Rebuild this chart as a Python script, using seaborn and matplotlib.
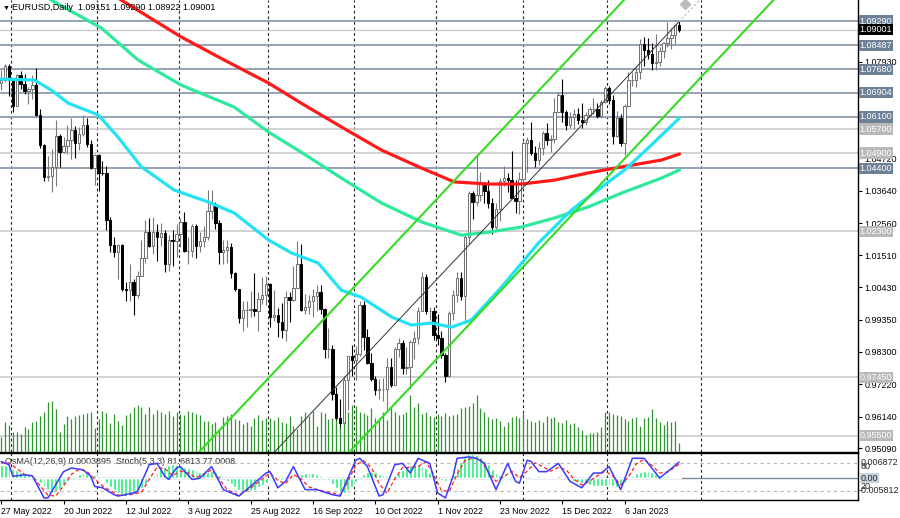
import matplotlib
matplotlib.use("Agg")
import matplotlib.pyplot as plt
import matplotlib.transforms as mtransforms
import numpy as np
import pandas as pd
import seaborn as sns

# ---------------- data ----------------
first_date = "2022-05-27"
first_open = 1.0723
last_open = 1.09151

closes = [
    1.0734, 1.0778, 1.0733, 1.0647, 1.0749, 1.0719, 1.0698, 1.0703, 1.0717, 1.0617,
    1.0518, 1.0409, 1.0415, 1.0445, 1.0546, 1.0495, 1.0514, 1.0535, 1.0567, 1.0522,
    1.0554, 1.0583, 1.0519, 1.0442, 1.0484, 1.0425, 1.0423, 1.0266, 1.0183, 1.0160,
    1.0184, 1.0038, 1.0036, 1.0062, 1.0018, 1.0082, 1.0142, 1.0226, 1.0180, 1.0229,
    1.0210, 1.0224, 1.0120, 1.0201, 1.0197, 1.0221, 1.0260, 1.0163, 1.0166, 1.0246,
    1.0180, 1.0196, 1.0210, 1.0297, 1.0320, 1.0259, 1.0160, 1.0169, 1.0177, 1.0090,
    1.0037, 0.9943, 0.9967, 0.9969, 0.9972, 0.9965, 1.0004, 1.0017, 1.0054, 0.9945,
    0.9953, 0.9927, 0.9902, 1.0012, 1.0001, 1.0040, 1.0120, 0.9969, 0.9979, 0.9998,
    1.0014, 1.0027, 0.9970, 0.9837, 0.9838, 0.9690, 0.9608, 0.9594, 0.9737, 0.9814,
    0.9801, 0.9823, 0.9985, 0.9880, 0.9793, 0.9740, 0.9703, 0.9705, 0.9706, 0.9779,
    0.9719, 0.9837, 0.9857, 0.9775, 0.9778, 0.9861, 0.9876, 0.9966, 1.0078, 0.9965,
    0.9965, 0.9884, 0.9875, 0.9819, 0.9749, 0.9959, 1.0018, 1.0074, 1.0014, 1.0212,
    1.0357, 1.0326, 1.0350, 1.0390, 1.0364, 1.0324, 1.0243, 1.0304, 1.0396, 1.0408,
    1.0399, 1.0341, 1.0331, 1.0405, 1.0523, 1.0535, 1.0490, 1.0466, 1.0508, 1.0556,
    1.0534, 1.0537, 1.0628, 1.0682, 1.0627, 1.0585, 1.0609, 1.0621, 1.0601, 1.0593,
    1.0616, 1.0635, 1.0637, 1.0612, 1.0660, 1.0705, 1.0667, 1.0548, 1.0605, 1.0522,
    1.0645, 1.0732, 1.0733, 1.0761, 1.0852, 1.0832, 1.0821, 1.0790, 1.0793, 1.0831,
    1.0855, 1.0871, 1.0884, 1.0915, 1.09001,
]
highs = [
    1.0765, 1.0787, 1.0786, 1.0737, 1.0754, 1.0764, 1.0752, 1.0710, 1.0748, 1.0774,
    1.0637, 1.0520, 1.0479, 1.0505, 1.0601, 1.0555, 1.0543, 1.0583, 1.0606, 1.0581,
    1.0577, 1.0615, 1.0605, 1.0534, 1.0488, 1.0486, 1.0463, 1.0448, 1.0277, 1.0210,
    1.0186, 1.0186, 1.0061, 1.0121, 1.0071, 1.0099, 1.0200, 1.0269, 1.0274, 1.0278,
    1.0255, 1.0258, 1.0235, 1.0219, 1.0234, 1.0254, 1.0274, 1.0294, 1.0211, 1.0254,
    1.0253, 1.0226, 1.0248, 1.0368, 1.0366, 1.0328, 1.0268, 1.0202, 1.0202, 1.0191,
    1.0096, 1.0039, 0.9999, 0.9999, 1.0030, 1.0090, 1.0028, 1.0079, 1.0080, 1.0057,
    1.0034, 0.9975, 0.9990, 1.0030, 1.0029, 1.0113, 1.0198, 1.0187, 1.0020, 1.0017,
    1.0037, 1.0050, 1.0052, 0.9976, 0.9907, 0.9852, 0.9713, 0.9671, 0.9750, 0.9815,
    0.9853, 0.9848, 0.9999, 0.9998, 0.9904, 0.9826, 0.9749, 0.9740, 0.9742, 0.9808,
    0.9809, 0.9845, 0.9875, 0.9868, 0.9846, 0.9870, 0.9899, 0.9977, 1.0094, 1.0089,
    0.9978, 0.9977, 0.9954, 0.9900, 0.9825, 0.9965, 1.0034, 1.0096, 1.0093, 1.0224,
    1.0364, 1.0364, 1.0480, 1.0426, 1.0393, 1.0402, 1.0339, 1.0325, 1.0406, 1.0448,
    1.0423, 1.0497, 1.0400, 1.0427, 1.0534, 1.0545, 1.0594, 1.0514, 1.0528, 1.0564,
    1.0589, 1.0550, 1.0673, 1.0694, 1.0737, 1.0634, 1.0625, 1.0638, 1.0640, 1.0658,
    1.0625, 1.0642, 1.0674, 1.0658, 1.0665, 1.0713, 1.0712, 1.0683, 1.0630, 1.0620,
    1.0652, 1.0760, 1.0760, 1.0776, 1.0868, 1.0875, 1.0874, 1.0855, 1.0887, 1.0843,
    1.0860, 1.0927, 1.0905, 1.0918, 1.0929,
]
lows = [
    1.0700, 1.0725, 1.0680, 1.0627, 1.0646, 1.0703, 1.0687, 1.0653, 1.0671, 1.0613,
    1.0506, 1.0397, 1.0398, 1.0359, 1.0381, 1.0443, 1.0491, 1.0487, 1.0470, 1.0475,
    1.0500, 1.0548, 1.0510, 1.0437, 1.0383, 1.0365, 1.0417, 1.0235, 1.0162, 1.0145,
    1.0072, 1.0032, 0.9999, 0.9998, 0.9952, 1.0007, 1.0081, 1.0125, 1.0177, 1.0153,
    1.0130, 1.0180, 1.0096, 1.0097, 1.0113, 1.0144, 1.0179, 1.0160, 1.0122, 1.0146,
    1.0141, 1.0160, 1.0178, 1.0202, 1.0272, 1.0236, 1.0122, 1.0121, 1.0123, 1.0073,
    1.0033, 0.9926, 0.9900, 0.9910, 0.9944, 0.9948, 0.9899, 0.9988, 0.9985, 0.9910,
    0.9930, 0.9877, 0.9876, 0.9864, 0.9929, 0.9999, 1.0040, 0.9966, 0.9954, 0.9956,
    0.9946, 0.9966, 0.9954, 0.9810, 0.9807, 0.9668, 0.9553, 0.9570, 0.9535, 0.9635,
    0.9748, 0.9736, 0.9815, 0.9835, 0.9787, 0.9731, 0.9684, 0.9671, 0.9667, 0.9632,
    0.9712, 0.9718, 0.9812, 0.9756, 0.9756, 0.9705, 0.9805, 0.9855, 0.9964, 0.9954,
    0.9936, 0.9870, 0.9852, 0.9808, 0.9730, 0.9747, 0.9936, 0.9994, 1.0003, 0.9936,
    1.0187, 1.0270, 1.0314, 1.0331, 1.0325, 1.0309, 1.0222, 1.0234, 1.0265, 1.0380,
    1.0360, 1.0340, 1.0290, 1.0288, 1.0394, 1.0428, 1.0482, 1.0443, 1.0451, 1.0484,
    1.0518, 1.0492, 1.0524, 1.0625, 1.0593, 1.0567, 1.0575, 1.0570, 1.0586, 1.0573,
    1.0585, 1.0612, 1.0620, 1.0608, 1.0605, 1.0655, 1.0653, 1.0519, 1.0542, 1.0512,
    1.0483, 1.0643, 1.0713, 1.0709, 1.0736, 1.0780, 1.0804, 1.0766, 1.0767, 1.0779,
    1.0805, 1.0844, 1.0835, 1.0854, 1.08922,
]
# tick volume, thousands
volumes = [
    15, 30, 27, 20, 20, 18, 25, 23, 30,
    31, 36, 40, 50, 51, 43, 20,
    28, 36, 33, 36, 37, 38, 39, 40, 24, 33,
    41, 39, 29, 38, 31, 27, 37, 39, 45, 47, 45,
    38, 45, 38, 42, 40, 38, 41, 36, 40, 38, 37, 41, 40, 38, 37,
    31, 31, 28, 30, 22, 35, 36, 38, 33, 32, 28, 30, 26, 34, 37, 32, 34, 34, 32, 35,
    30, 29, 36, 26, 23, 36, 40, 36, 41, 26, 40, 39, 33, 34, 32, 25, 30,
    40, 47, 46, 40, 39, 37, 44, 34,
    34, 40, 32, 44, 40, 37, 38, 40, 57,
    45, 49, 38, 40, 36, 35, 38, 36, 39, 36, 37, 38, 44, 45, 46, 49,
    57, 44, 40, 35, 33, 34, 31, 26, 30, 35, 36, 34, 40, 33, 31, 30, 32, 30, 36, 34,
    35, 30, 29, 32, 28, 29,
    25, 22, 17, 19, 19, 20, 25, 40,
    40, 38, 37, 36, 33, 31, 34, 35, 26, 34, 35, 43, 34, 30, 27, 31, 30, 31,
    9,
]
# OsMA(12,26,9) in units of 0.0001
osma = [
    60, 58, 50, 42, 35, 28, 22, 15, 8,
    -8, -22, -40, -55, -68, -62, -50,
    -30, -12, 3, 12, 18, 22, 24, 20, 14, 8,
    -5, -20, -38, -55, -68, -78, -80, -78, -70, -60, -45, -28,
    -8, 12, 30, 42, 52, 58, 62, 60, 55, 50, 45, 40, 35, 30,
    28, 30, 32, 26, 15,
    2, -12, -28, -42, -55, -62, -64, -60, -52, -42, -32, -22,
    -15, -12, -10, -8, -4, 2, 8, 14, 18,
    22, 24, 22, 18, 12, 4, -8,
    -25, -45, -62, -68, -55, -38,
    -18, 2, 18, 28, 30, 26, 20, 14, 8, 4,
    10, 22, 38, 50, 58, 62, 60, 55, 45, 30, 15,
    2, -8, -14, -10,
    15, 45, 75, 95, 108, 110, 106, 95, 80, 62,
    42, 25, 14, 8, 4, 0, -4, -6, -4, 0, 4,
    6, 8, 6, 4, 4, 6, 8, 6,
    0, -6, -12, -18, -24, -28, -32, -34, -35, -36, -34, -32, -35, -38, -32, -20,
    -5, 10, 22, 30, 33, 32, 28,
    20, 14, 10, 8, 6, 5, 3.9,
]

# Stochastic(5,3,3): main line and signal line, vertices (bar, value)
stoch_bars = [0, 2, 3, 6, 8, 11, 12, 16, 18, 21, 23, 24, 26, 29, 30, 34, 35, 38, 40, 42,
              43, 45, 46, 49, 51, 54, 57, 61, 68, 69, 71, 73, 75, 78, 81, 85, 87, 91, 92, 94,
              97, 98, 101, 103, 105, 107, 110, 112, 114, 116, 117, 120, 122, 124, 127, 130,
              132, 133, 135, 136, 138, 140, 143, 146, 149, 152, 154, 156, 159, 162, 165, 169,
              170, 174]
stoch_main = [83, 76, 51, 54, 52, 4, 4, 61, 69, 65, 51, 29, 26, 11, 8, 15, 18, 76, 79, 51,
              44, 69, 72, 44, 47, 72, 22, 8, 58, 61, 26, 40, 72, 22, 22, 11, 8, 86, 90, 72,
              8, 11, 76, 79, 58, 90, 79, 15, 4, 52, 90, 93, 90, 79, 22, 79,
              40, 36, 86, 83, 61, 61, 79, 40, 26, 58, 58, 72, 22, 90, 90, 47,
              54, 81.68]
signal_bars = [0, 2, 4, 6, 8, 10, 12, 14, 16, 18, 20, 22, 24, 26, 28, 30, 33, 36, 38, 40,
               42, 44, 46, 48, 50, 52, 54, 56, 58, 61, 64, 67, 69, 71, 73, 75, 77, 79, 82, 85,
               87, 89, 91, 93, 95, 97, 99, 101, 103, 105, 107, 109, 111, 113, 115, 117, 119,
               121, 123, 125, 127, 129, 131, 133, 135, 137, 139, 141, 143, 145, 147, 149, 151,
               153, 155, 157, 159, 161, 163, 165, 167, 169, 171, 174]
stoch_signal = [80, 80, 68, 55, 52, 30, 10, 8, 30, 55, 66, 62, 45, 30, 20, 10, 11, 16, 45, 70,
                68, 52, 62, 58, 48, 55, 65, 45, 22, 10, 25, 45, 58, 42, 35, 55, 45, 28, 20, 15,
                10, 40, 75, 85, 70, 35, 14, 45, 70, 70, 72, 82, 55, 20, 18, 55, 85,
                90, 88, 60, 40, 50, 62, 48, 62, 80, 72, 62, 70, 65, 45, 32, 40,
                52, 62, 52, 32, 50, 78, 88, 75, 58, 60, 77.0]

# moving averages, vertices (bar, price)
ma_fast_bars = [0, 8.5, 12.8, 17.2, 24.9, 30.0, 36.0, 44.4, 53.2, 59.8, 68.6, 74.5, 81.4,
                87.3, 92.4, 100.2, 105.3, 110.4, 115.6, 120.7, 128.4, 137.9, 146.4, 154.1,
                160.0, 166.9, 174.1]
ma_fast = [1.0736, 1.0733, 1.0700, 1.0656, 1.0617, 1.0543, 1.0444, 1.0367, 1.0327, 1.0291,
           1.0201, 1.0158, 1.0124, 1.0034, 1.0011, 0.9945, 0.9918, 0.9925, 0.9911, 0.9935,
           1.0044, 1.0191, 1.0301, 1.0377, 1.0434, 1.0517, 1.0607]
ma_mid_bars = [7.7, 12.8, 25.7, 35.2, 46.2, 59.8, 68.6, 77.0, 87.3, 97.6, 107.9, 118.1,
               125.1, 133.5, 142.0, 150.7, 159.2, 169.5, 174.1]
ma_mid = [1.1039, 1.0999, 1.0906, 1.0799, 1.0716, 1.0643, 1.0560, 1.0493, 1.0407, 1.0324,
          1.0261, 1.0217, 1.0227, 1.0244, 1.0274, 1.0311, 1.0357, 1.0407, 1.0434]
ma_slow_bars = [25.7, 30.8, 46.2, 57.3, 68.6, 77.0, 87.3, 97.6, 107.9, 116.3, 125.1, 133.5,
                142.0, 150.7, 159.2, 169.5, 174.1]
ma_slow = [1.1039, 1.0999, 1.0876, 1.0799, 1.0723, 1.0656, 1.0577, 1.0500, 1.0440, 1.0394,
           1.0387, 1.0387, 1.0400, 1.0424, 1.0444, 1.0467, 1.0487]

# equidistant channel (bar, price)
chan_upper_bars, chan_upper = [46.0, 166.0], [0.9430, 1.1084]
chan_lower_bars, chan_lower = [87.3, 202.9], [0.9467, 1.1064]
chan_mid_bars, chan_mid = [68.05, 173.9], [0.9467, 1.0926]
chan_ext_bars, chan_ext = [173.9, 179.8], [1.0926, 1.1006]

levels_dark = [1.09290, 1.08487, 1.07680, 1.06904, 1.06100, 1.04400]
levels_light = [1.05700, 1.04900, 1.02300, 0.97450, 0.95500]
bid = 1.09001
price_ticks = [1.07930, 1.04720, 1.03640, 1.02560, 1.01510, 1.00430,
               0.99350, 0.98300, 0.97220, 0.96140, 0.95090]
grid_bars = [2.5, 24.6, 45.7, 68.5, 90.6, 111.7, 133.8, 155.6, 179.7]

assert len(closes) == len(highs) == len(lows) == len(volumes) == len(osma)
assert len(stoch_bars) == len(stoch_main) and len(signal_bars) == len(stoch_signal)

# ---------------- figure ----------------
sns.set_style("white")
plt.rcParams["font.family"] = ["Liberation Sans", "DejaVu Sans"]

W, H = 900, 518
fig = plt.figure(figsize=(W / 100, H / 100), dpi=100)
ax = fig.add_axes([0, 66 / H, 858 / W, 452 / H])
axi = fig.add_axes([0, 18 / H, 858 / W, 47 / H])

n = len(closes)
x = np.arange(n)
c = np.array(closes)
o = np.array([first_open] + closes[:-1])
o[-1] = last_open
hi = np.array(highs)
lo = np.array(lows)
dates = pd.bdate_range(first_date, periods=n)

XMIN, XMAX = -0.3, 219.9
YMIN, YMAX = 0.9496, 1.0999

# grid + levels
for g in grid_bars:
    ax.axvline(g, color="#222222", lw=0.8, ls=(0, (2.5, 2.5)), zorder=0.5)
    axi.axvline(g, color="#222222", lw=0.8, ls=(0, (2.5, 2.5)), zorder=0.5)
for lv in levels_dark:
    ax.axhline(lv, color="#8d9cb0", lw=1.3, zorder=1)
for lv in levels_light:
    ax.axhline(lv, color="#c6c6c6", lw=1.1, zorder=1)
ax.axhline(bid, color="#c8c8c8", lw=0.9, zorder=1)

# candles
up = c >= o
ax.vlines(x[up], lo[up], hi[up], colors="#7a7a7a", lw=0.8, zorder=2)
ax.vlines(x[~up], lo[~up], hi[~up], colors="black", lw=0.8, zorder=2)
body = np.maximum(np.abs(c - o), 0.00006)
ax.bar(x[up], body[up], bottom=o[up], width=0.62, color="white",
       edgecolor="#6e6e6e", linewidth=0.7, zorder=3)
ax.bar(x[~up], body[~up], bottom=c[~up], width=0.62, color="black",
       edgecolor="black", linewidth=0.7, zorder=3)

# tick volume at the foot of the price panel
vol_full = 452.0
trans = ax.get_xaxis_transform()
ax.vlines(x, 0, np.array(volumes) / vol_full, transform=trans,
          colors="#2f962f", lw=0.9, zorder=4)

# moving averages
sns.lineplot(x=ma_slow_bars, y=ma_slow, ax=ax, color="#ff1a1a", lw=2.3,
             sort=False, estimator=None, legend=False, zorder=5)
sns.lineplot(x=ma_mid_bars, y=ma_mid, ax=ax, color="#2fe99c", lw=2.3,
             sort=False, estimator=None, legend=False, zorder=5)
sns.lineplot(x=ma_fast_bars, y=ma_fast, ax=ax, color="#25e2f2", lw=2.3,
             sort=False, estimator=None, legend=False, zorder=5)

# channel
for bx, by in [(chan_upper_bars, chan_upper), (chan_lower_bars, chan_lower)]:
    sns.lineplot(x=bx, y=by, ax=ax, color="#33dd22", lw=1.5,
                 sort=False, estimator=None, legend=False, zorder=6)
sns.lineplot(x=chan_mid_bars, y=chan_mid, ax=ax, color="#333333", lw=0.7,
             sort=False, estimator=None, legend=False, zorder=6)
sns.lineplot(x=chan_ext_bars, y=chan_ext, ax=ax, color="#bbbbbb", lw=0.8,
             linestyle=(0, (2, 2)), sort=False, estimator=None, legend=False, zorder=6)
ax.plot([175.6], [1.0985], marker="D", ms=5, color="#bdbdbd", zorder=6)

ax.set_xlim(XMIN, XMAX)
ax.set_ylim(YMIN, YMAX)
ax.set_xlabel("")
ax.set_ylabel("")
ax.set_xticks([])
ax.yaxis.tick_right()
ax.set_yticks(price_ticks)
ax.set_yticklabels([f"{v:.5f}" for v in price_ticks])
ax.tick_params(axis="y", right=True, length=3, width=0.8, pad=1.5,
               labelsize=6.5, colors="black")
for s in ["top", "left"]:
    ax.spines[s].set_visible(False)
for s in ["right", "bottom"]:
    ax.spines[s].set_color("black")
    ax.spines[s].set_linewidth(1.0)

# price tags on the right scale
blend = mtransforms.blended_transform_factory(ax.transAxes, ax.transData)
def price_tag(v, fc, txt=None):
    ax.text(1.002, v, txt or f"{v:.5f}", transform=blend, fontsize=6.5,
            color="white", va="center", ha="left", zorder=10, clip_on=False,
            bbox=dict(boxstyle="square,pad=0.12", fc=fc, ec="none"))

for lv in levels_dark:
    price_tag(lv, "#6f8196")
for lv in levels_light:
    price_tag(lv, "#b9b9b9")
price_tag(bid, "black")

fig.text(3 / W, 1 - 8 / H, "\u25bc", fontsize=5, va="center", color="black")
fig.text(12 / W, 1 - 8 / H, "EURUSD,Daily  1.09151 1.09290 1.08922 1.09001",
         fontsize=6.5, va="center", color="black")

# ---------------- indicator panel ----------------
axi.bar(x, np.array(osma) * 1e-4, width=0.75, color="#22ee7e", zorder=2)
axi.axhline(0, color="#7b8ca0", lw=1.0, zorder=1)
axi.set_ylim(-0.00989, 0.01140)
axi.set_xlim(XMIN, XMAX)

axs = axi.twinx()
axs.axhline(80, color="#b8b8b8", lw=0.8, ls=(0, (3, 3)), zorder=1)
axs.axhline(20, color="#b8b8b8", lw=0.8, ls=(0, (3, 3)), zorder=1)
sns.lineplot(x=signal_bars, y=stoch_signal, ax=axs, color="#ff2020", lw=0.9,
             linestyle=(0, (3, 2)), sort=False, estimator=None, legend=False, zorder=3)
sns.lineplot(x=stoch_bars, y=stoch_main, ax=axs, color="#3b3bff", lw=1.1,
             sort=False, estimator=None, legend=False, zorder=4)
axs.set_ylim(-0.5, 101.5)
axs.set_xlim(XMIN, XMAX)
axs.set_yticks([])
axs.set_ylabel("")
for s in axs.spines.values():
    s.set_visible(False)

axi.set_yticks([])
axi.set_ylabel("")
axi.set_xticks(x[::16])
axi.set_xticklabels([f"{d.day} {d:%b %Y}" for d in dates[::16]])
for lbl in axi.get_xticklabels():
    lbl.set_ha("left")
axi.tick_params(axis="x", bottom=True, length=3, width=0.8, pad=2,
                labelsize=6.3, colors="black")
axi.spines["left"].set_visible(False)
for s in ["top", "right", "bottom"]:
    axi.spines[s].set_color("black")
    axi.spines[s].set_linewidth(1.0)

axi.text(5 / 858, 0.81, "OsMA(12,26,9) 0.0003895  Stoch(5,3,3) 81.6813 77.0008",
         transform=axi.transAxes, fontsize=6.5, color="#333333", va="center", zorder=5)

iblend = mtransforms.blended_transform_factory(axi.transAxes, axi.transData)
sblend = mtransforms.blended_transform_factory(axs.transAxes, axs.transData)
axi.text(1.003, 0.006872, "0.006872", transform=iblend, fontsize=6.5, va="center",
         ha="left", clip_on=False)
axs.text(1.003, 72, "80", transform=sblend, fontsize=6.5, va="center",
         ha="left", clip_on=False)
axi.text(1.003, 0.0, "0.00", transform=iblend, fontsize=6.5, va="center",
         ha="left", clip_on=False,
         bbox=dict(boxstyle="square,pad=0.05", fc="#c9d4e3", ec="none"))
axs.text(1.003, 28, "20", transform=sblend, fontsize=6.5, va="center",
         ha="left", clip_on=False)
axi.text(1.001, -0.005812, "-0.005812", transform=iblend, fontsize=6.5,
         va="center", ha="left", clip_on=False)

fig.savefig("out.png", dpi=100)
